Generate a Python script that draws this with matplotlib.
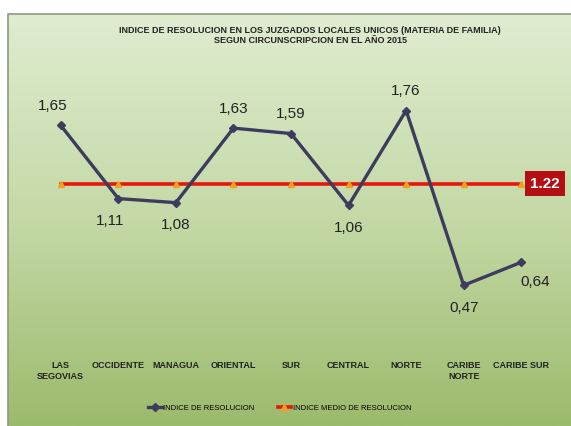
import matplotlib.pyplot as plt
import numpy as np
from matplotlib.colors import LinearSegmentedColormap

plt.rcParams['font.family'] = ['Liberation Sans', 'DejaVu Sans']

# datos
regiones = ['LAS\nSEGOVIAS', 'OCCIDENTE', 'MANAGUA', 'ORIENTAL', 'SUR',
            'CENTRAL', 'NORTE', 'CARIBE\nNORTE', 'CARIBE SUR']
indice = [1.65, 1.11, 1.08, 1.63, 1.59, 1.06, 1.76, 0.47, 0.64]
etiquetas = ['1,65', '1,11', '1,08', '1,63', '1,59', '1,06', '1,76', '0,47', '0,64']
indice_medio = 1.22

fig = plt.figure(figsize=(5.71, 4.26), dpi=100)

# fondo degradado verde
bg = fig.add_axes([0, 0, 1, 1], zorder=0)
cmap = LinearSegmentedColormap.from_list('verde', ['#9cba6c', '#c4d9a6', '#dfecd0'])
grad = np.linspace(0, 1, 256).reshape(-1, 1)
bg.imshow(grad, aspect='auto', cmap=cmap, origin='lower',
          extent=[8, 571, 0, 412])
bg.set_xlim(0, 571)
bg.set_ylim(0, 426)
bg.plot([8, 8, 571], [0, 412, 412], color='#8a9a80', lw=1.2)
bg.axis('off')

ax = fig.add_axes([32/571, 77/426, 518/571, 271/426], zorder=1)
ax.patch.set_alpha(0)
x = np.arange(len(regiones))

ax.plot(x, [indice_medio]*len(x), color='#e8160c', lw=2.6, marker='^',
        markersize=4, markerfacecolor='#f0a020', markeredgecolor='#f0a020',
        label='INDICE MEDIO DE RESOLUCION', zorder=2)
ax.plot(x, indice, color='#3e3c5e', lw=2.4, marker='D', markersize=4,
        label='INDICE DE RESOLUCION', zorder=3)

# etiquetas de datos
offs = [(-6, 14), (-6, -16), (0, -16), (0, 14), (0, 14), (0, -16), (0, 14), (0, -16), (10, -14)]
for xi, yi, t, o in zip(x, indice, etiquetas, offs):
    ax.annotate(t, (xi, yi), xytext=o, textcoords='offset points',
                ha='center', va='center', fontsize=11, color='#222222')

ax.text(8.15, indice_medio, '1.22', ha='left', va='center', fontsize=11,
        fontweight='bold', color='white',
        bbox=dict(boxstyle='square,pad=0.35', fc='#b40f12', ec='none'))

ax.set_xlim(-0.5, 8.5)
ax.set_ylim(0, 2)
ax.set_yticks([])
ax.set_xticks(x)
ax.set_xticklabels(regiones, fontsize=6.5, fontweight='bold', color='#222222')
ax.tick_params(axis='x', length=0, pad=9)
for s in ax.spines.values():
    s.set_visible(False)

fig.text(0.543, 0.917, 'INDICE DE RESOLUCION EN LOS JUZGADOS LOCALES UNICOS (MATERIA DE FAMILIA)\n'
         'SEGUN CIRCUNSCRIPCION EN EL AÑO 2015', ha='center', va='center',
         fontsize=6.5, fontweight='bold', color='#222222', linespacing=1.1)

h, l = ax.get_legend_handles_labels()
leg = fig.legend(h[::-1], l[::-1], loc='center', bbox_to_anchor=(0.49, 0.042), ncol=2,
                 frameon=False, fontsize=5.5, handlelength=1.8, columnspacing=3,
                 handletextpad=0.2)

plt.savefig('out.png', dpi=100)
